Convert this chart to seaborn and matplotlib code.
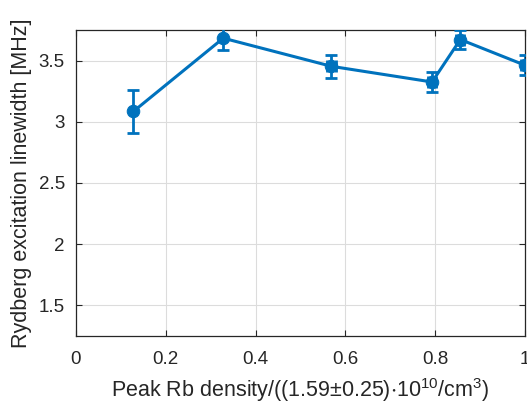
#importing the libraries
import pandas as pd
import numpy as np
import matplotlib.pyplot as plt
import seaborn as sns

#data
density = [0.128, 0.328, 0.569, 0.793, 0.856, 1.0]
linewidth = [3.085, 3.683, 3.453, 3.325, 3.672, 3.462]
lw_err = [0.175, 0.10, 0.093, 0.08, 0.076, 0.08]
dens_err = [0.0, 0.0, 0.009, 0.009, 0.009, 0.009]

df = pd.DataFrame({"density": density, "linewidth": linewidth})

blue = "#0072BD"

sns.set_style("ticks")
plt.rcParams['font.family'] = ['Liberation Sans', 'DejaVu Sans']
plt.rcParams['mathtext.default'] = 'regular'

fig = plt.figure(figsize=(5.27, 4.05), dpi=100)
ax = fig.add_axes([0.1442, 0.1704, 0.852, 0.7556])

#errorbars first, then line with markers on top
ax.errorbar(density, linewidth, yerr=lw_err, xerr=dens_err, fmt='none',
            ecolor=blue, elinewidth=2, capsize=4, capthick=2, zorder=3)
sns.lineplot(data=df, x="density", y="linewidth", color=blue, linewidth=2.2,
             marker='o', markersize=9, markeredgecolor=blue, ax=ax, zorder=4)

ax.set_xlim(0, 1)
ax.set_ylim(1.25, 3.75)
ax.set_xticks([0, 0.2, 0.4, 0.6, 0.8, 1])
ax.set_xticklabels(['0', '0.2', '0.4', '0.6', '0.8', '1'])
ax.set_yticks([1.5, 2, 2.5, 3, 3.5])
ax.set_yticklabels(['1.5', '2', '2.5', '3', '3.5'])

ax.grid(True, color='#dcdcdc', linewidth=0.8)
ax.tick_params(direction='in', top=True, right=True, length=4, width=0.8,
               labelsize=13.5, colors='#262626')
ax.tick_params(axis='x', pad=11)
ax.tick_params(axis='y', pad=8)
for s in ax.spines.values():
    s.set_color('#262626')
    s.set_linewidth(0.9)

ax.set_xlabel(r"Peak Rb density/((1.59$\pm$0.25)$\cdot$10$^{10}$/cm$^3$)",
              fontsize=15.5, color='#262626')
ax.set_ylabel("Rydberg excitation linewidth [MHz]", fontsize=15.5, color='#262626')
ax.xaxis.set_label_coords(0.5, -0.13)
ax.yaxis.set_label_coords(-0.098, 0.5)

fig.savefig("out.png", dpi=100)
